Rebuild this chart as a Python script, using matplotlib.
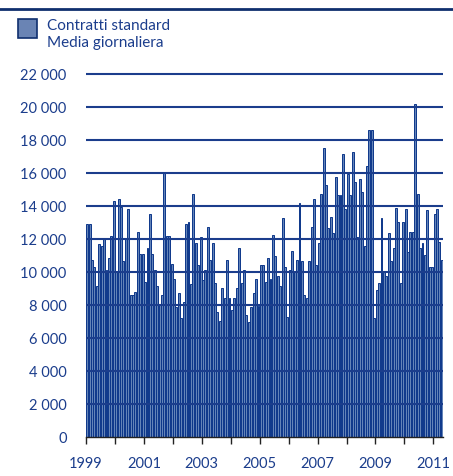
import matplotlib
matplotlib.use("Agg")
import matplotlib.pyplot as plt
from matplotlib.patches import Rectangle
from matplotlib.lines import Line2D
import numpy as np

# Contratti standard, media giornaliera - monthly values, Jan 1999 .. Apr 2011
v1999 = [12900, 12900, 10750, 10300, 9150, 11700, 11600, 12000, 10150, 10850, 12200, 14300]
v2000 = [10050, 14400, 13950, 10650, 12000, 13800, 8600, 8600, 8800, 12450, 11100, 11100]
v2001 = [9400, 11450, 13500, 11100, 10150, 9150, 8000, 8600, 16000, 12200, 12200, 10500]
v2002 = [9600, 7900, 8700, 7200, 8200, 12900, 13000, 9250, 14700, 11750, 10400, 12100]
v2003 = [9500, 10150, 12750, 10750, 11750, 9350, 7600, 7000, 9000, 8450, 10750, 8450]
v2004 = [7700, 8450, 9000, 11450, 9350, 10150, 7400, 6950, 7850, 8700, 9600, 7950]
v2005 = [10400, 10400, 9400, 10850, 9600, 12250, 10950, 9750, 9150, 13250, 10300, 7300]
v2006 = [10150, 11300, 10050, 10750, 14150, 10650, 8600, 8450, 10650, 12700, 14400, 10400]
v2007 = [11750, 14700, 17500, 15300, 12650, 13350, 12350, 15750, 14650, 14650, 17150, 13800]
v2008 = [15950, 14650, 17250, 15450, 12100, 15650, 14850, 11550, 16450, 18600, 18600, 7200]
v2009 = [8900, 9350, 13250, 10050, 9750, 12350, 10650, 11450, 13900, 13000, 9350, 13000]
v2010 = [13800, 11200, 12450, 12450, 20200, 14700, 11450, 11750, 11050, 13750, 10300, 10300]
v2011 = [13500, 13800, 11800, 10750]

values = (v1999 + v2000 + v2001 + v2002 + v2003 + v2004 + v2005 + v2006
          + v2007 + v2008 + v2009 + v2010 + v2011)
years = list(range(1999, 2012))
yticks = list(range(0, 22001, 2000))

navy = "#1b3d8c"
bar_fill = "#6484b8"
bar_edge = "#0c368a"

W, H = 453, 477
fig = plt.figure(figsize=(W / 100, H / 100), dpi=100)
ax = fig.add_axes([86 / W, 39 / H, 357 / W, 368 / H])

months = np.arange(len(values))
ax.bar(months + 0.5, values, width=0.8, color=bar_fill, edgecolor=bar_edge,
       linewidth=0.7, zorder=2)

# horizontal gridlines drawn over the bars
for v in yticks[1:]:
    ax.axhline(v, color=navy, lw=1.5, zorder=3)

ax.set_xlim(0, len(values))
ax.set_ylim(0, 22300)

ax.set_yticks(yticks)
ax.set_yticklabels([f"{v:,}".replace(",", " ") for v in yticks])
ax.set_xticks([12 * k for k in range(len(years))])
ax.set_xticklabels([str(y) if y % 2 == 1 else "" for y in years])

for s in ["top", "right", "left"]:
    ax.spines[s].set_visible(False)
ax.spines["bottom"].set_color("#222222")
ax.spines["bottom"].set_linewidth(1.0)
ax.spines["bottom"].set_zorder(4)

ax.tick_params(axis="y", length=0, pad=14, labelsize=10.5, labelcolor=navy)
ax.tick_params(axis="x", length=5, width=1, color="#222222", pad=9,
               labelsize=10.5, labelcolor=navy)
for lab in ax.get_xticklabels() + ax.get_yticklabels():
    lab.set_family("Lato")

# top rule
fig.add_artist(Line2D([0, 1], [1 - 10 / H, 1 - 10 / H], color="#0f2f6e", lw=2))

# legend
fig.add_artist(Rectangle((18 / W, 1 - 39 / H), 19 / W, 19 / H, transform=fig.transFigure,
                         facecolor="#6a84b4", edgecolor="#0f2f6e", lw=1.2))
fig.text(47 / W, 1 - 26 / H, "Contratti standard", ha="left", va="center",
         fontsize=11, color=navy, family="Lato")
fig.text(47 / W, 1 - 43 / H, "Media giornaliera", ha="left", va="center",
         fontsize=11, color=navy, family="Lato")

fig.savefig("out.png", dpi=100)
